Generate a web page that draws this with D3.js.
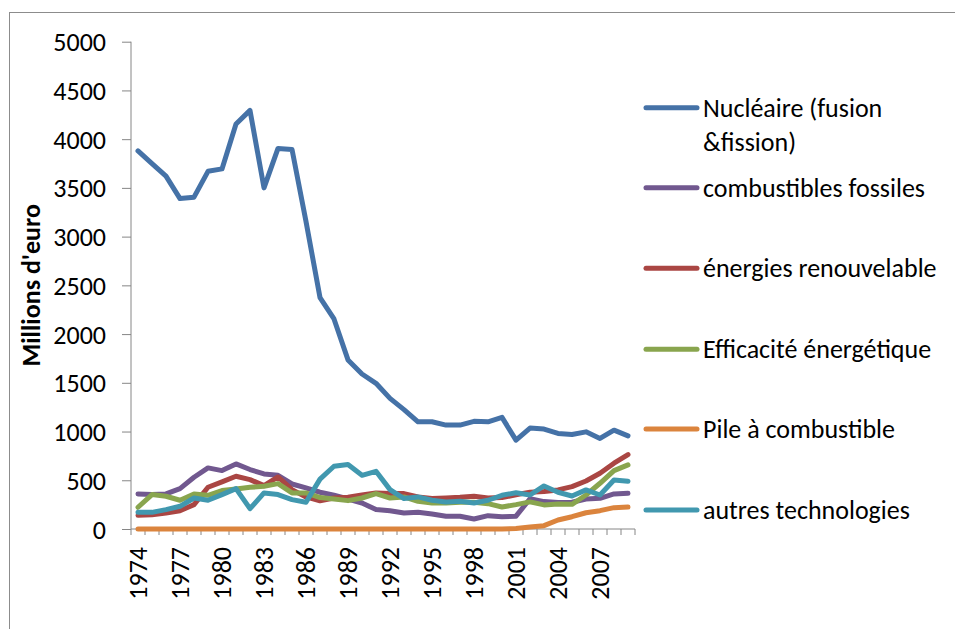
<!DOCTYPE html>
<html>
<head>
<meta charset="utf-8">
<script src="https://cdn.jsdelivr.net/npm/d3@7"></script>
<style>
    body { margin: 0; background: #fff; }
    text { font-family: Calibri, Carlito, "Open Sans", sans-serif; }
</style>
</head>
<body>
<div id="chart"></div>
<script>
const years = d3.range(1974, 2010);

const nucleaire = [3880, 3750, 3620, 3390, 3405, 3670, 3695, 4155, 4295, 3500, 3905, 3895, 3155, 2375, 2155, 1735, 1590, 1495, 1340, 1225, 1100, 1100, 1066, 1066, 1105, 1100, 1145, 912, 1036, 1025, 980, 970, 997, 929, 1014, 956];
const fossiles = [360, 353, 360, 414, 531, 627, 599, 668, 610, 565, 551, 462, 421, 377, 346, 308, 267, 199, 188, 164, 171, 154, 130, 130, 103, 137, 125, 132, 310, 281, 271, 274, 308, 315, 360, 366];
const renouvelable = [140, 147, 164, 188, 250, 428, 483, 541, 507, 445, 534, 404, 329, 290, 318, 325, 349, 370, 363, 363, 329, 312, 318, 325, 336, 318, 322, 352, 378, 384, 401, 435, 493, 572, 675, 764];
const efficacite = [223, 353, 336, 295, 360, 346, 394, 411, 428, 438, 466, 370, 370, 323, 308, 291, 318, 363, 318, 329, 284, 267, 267, 274, 274, 260, 226, 250, 278, 247, 257, 253, 349, 469, 599, 658];
const pile = [0, 0, 0, 0, 0, 0, 0, 0, 0, 0, 0, 0, 0, 0, 0, 0, 0, 0, 0, 0, 0, 0, 0, 0, 0, 0, 0, 5, 20, 34, 92, 126, 167, 188, 219, 225];
const autres = [171, 171, 199, 233, 318, 295, 353, 414, 209, 370, 353, 301, 274, 512, 644, 661, 551, 592, 404, 312, 329, 295, 277, 284, 267, 295, 346, 372, 349, 442, 377, 339, 401, 349, 503, 490];

const seriesNames = [["Nucléaire (fusion", "&fission)"], ["combustibles fossiles"], ["énergies renouvelable"], ["Efficacité énergétique"], ["Pile à combustible"], ["autres technologies"]];
const seriesValues = [nucleaire, fossiles, renouvelable, efficacite, pile, autres];
const seriesColours = ["#4572A7", "#71588F", "#AA4643", "#89A54E", "#DB843D", "#4198AF"];
const yTicks = d3.range(0, 5001, 500);

const width = 955, height = 629;

const svg = d3.select("#chart").append("svg")
    .attr("width", width)
    .attr("height", height);

// chart area frame (runs off the page on the right and bottom)
svg.append("rect")
    .attr("x", 9.5)
    .attr("y", 12.5)
    .attr("width", 1000)
    .attr("height", 700)
    .attr("fill", "none")
    .attr("stroke", "#8c8c8c");

const x = d3.scaleBand()
    .domain(years)
    .range([131, 635])
    .padding(0);

const y = d3.scaleLinear()
    .domain([0, 5000])
    .range([529, 41.7]);

const cx = d => x(d) + x.bandwidth() / 2;

const yAxisGroup = svg.append("g")
    .attr("transform", "translate(131,0)")
    .call(d3.axisLeft(y).tickValues(yTicks).tickFormat(d3.format("d")).tickSize(9).tickPadding(16));

yAxisGroup.selectAll("line").style("stroke", "#868686");
yAxisGroup.select("path").style("stroke", "#868686").attr("d", `M0,${y(5000)}V${y(0)}`);
yAxisGroup.selectAll("text")
    .style("fill", "#000")
    .style("font-size", "26px")
    .attr("dy", "0.35em");

const xAxisGroup = svg.append("g")
    .attr("transform", `translate(0,${y(0)})`)
    .call(d3.axisBottom(x)
        .tickSize(0)
        .tickValues(years.filter((d, i) => i % 3 === 0)));

xAxisGroup.select("path").style("stroke", "#868686").attr("d", `M${x.range()[0]},0H${x.range()[1]}`);
xAxisGroup.selectAll("text")
    .style("fill", "#000")
    .style("font-size", "26px")
    .style("text-anchor", "end")
    .attr("transform", "rotate(-90)")
    .attr("x", -18)
    .attr("y", 0)
    .attr("dy", "0.35em");

// tick marks sit between categories
xAxisGroup.selectAll(".cat-tick")
    .data(years.map(d => x(d)).concat([x.range()[1]]))
    .enter().append("line")
    .attr("class", "cat-tick")
    .attr("x1", d => d)
    .attr("x2", d => d)
    .attr("y1", 0)
    .attr("y2", 6)
    .style("stroke", "#868686");

svg.append("text")
    .attr("transform", "rotate(-90)")
    .attr("x", -y(2500))
    .attr("y", 31)
    .attr("dy", "0.35em")
    .style("text-anchor", "middle")
    .style("font-size", "26px")
    .style("font-weight", "bold")
    .text("Millions d'euro");

const line = d3.line()
    .x((d, i) => cx(years[i]))
    .y(d => y(d));

seriesValues.forEach((values, i) => {
    svg.append("path")
        .datum(values)
        .attr("fill", "none")
        .attr("stroke", seriesColours[i])
        .attr("stroke-width", 5)
        .attr("stroke-linejoin", "round")
        .attr("stroke-linecap", "round")
        .attr("d", line);
});

const legendY = [107.7, 187.7, 268.3, 349.3, 429, 510];

const legend = svg.append("g");

seriesNames.forEach((name, i) => {
    legend.append("line")
        .attr("x1", 646)
        .attr("x2", 697)
        .attr("y1", legendY[i])
        .attr("y2", legendY[i])
        .attr("stroke", seriesColours[i])
        .attr("stroke-width", 5)
        .attr("stroke-linecap", "round");

    const label = legend.append("text")
        .attr("x", 703)
        .attr("y", legendY[i])
        .style("font-size", "26px")
        .style("fill", "#000");

    name.forEach((part, j) => {
        label.append("tspan")
            .attr("x", 703)
            .attr("dy", j === 0 ? "0.35em" : "1.3em")
            .text(part);
    });
});
</script>
</body>
</html>
